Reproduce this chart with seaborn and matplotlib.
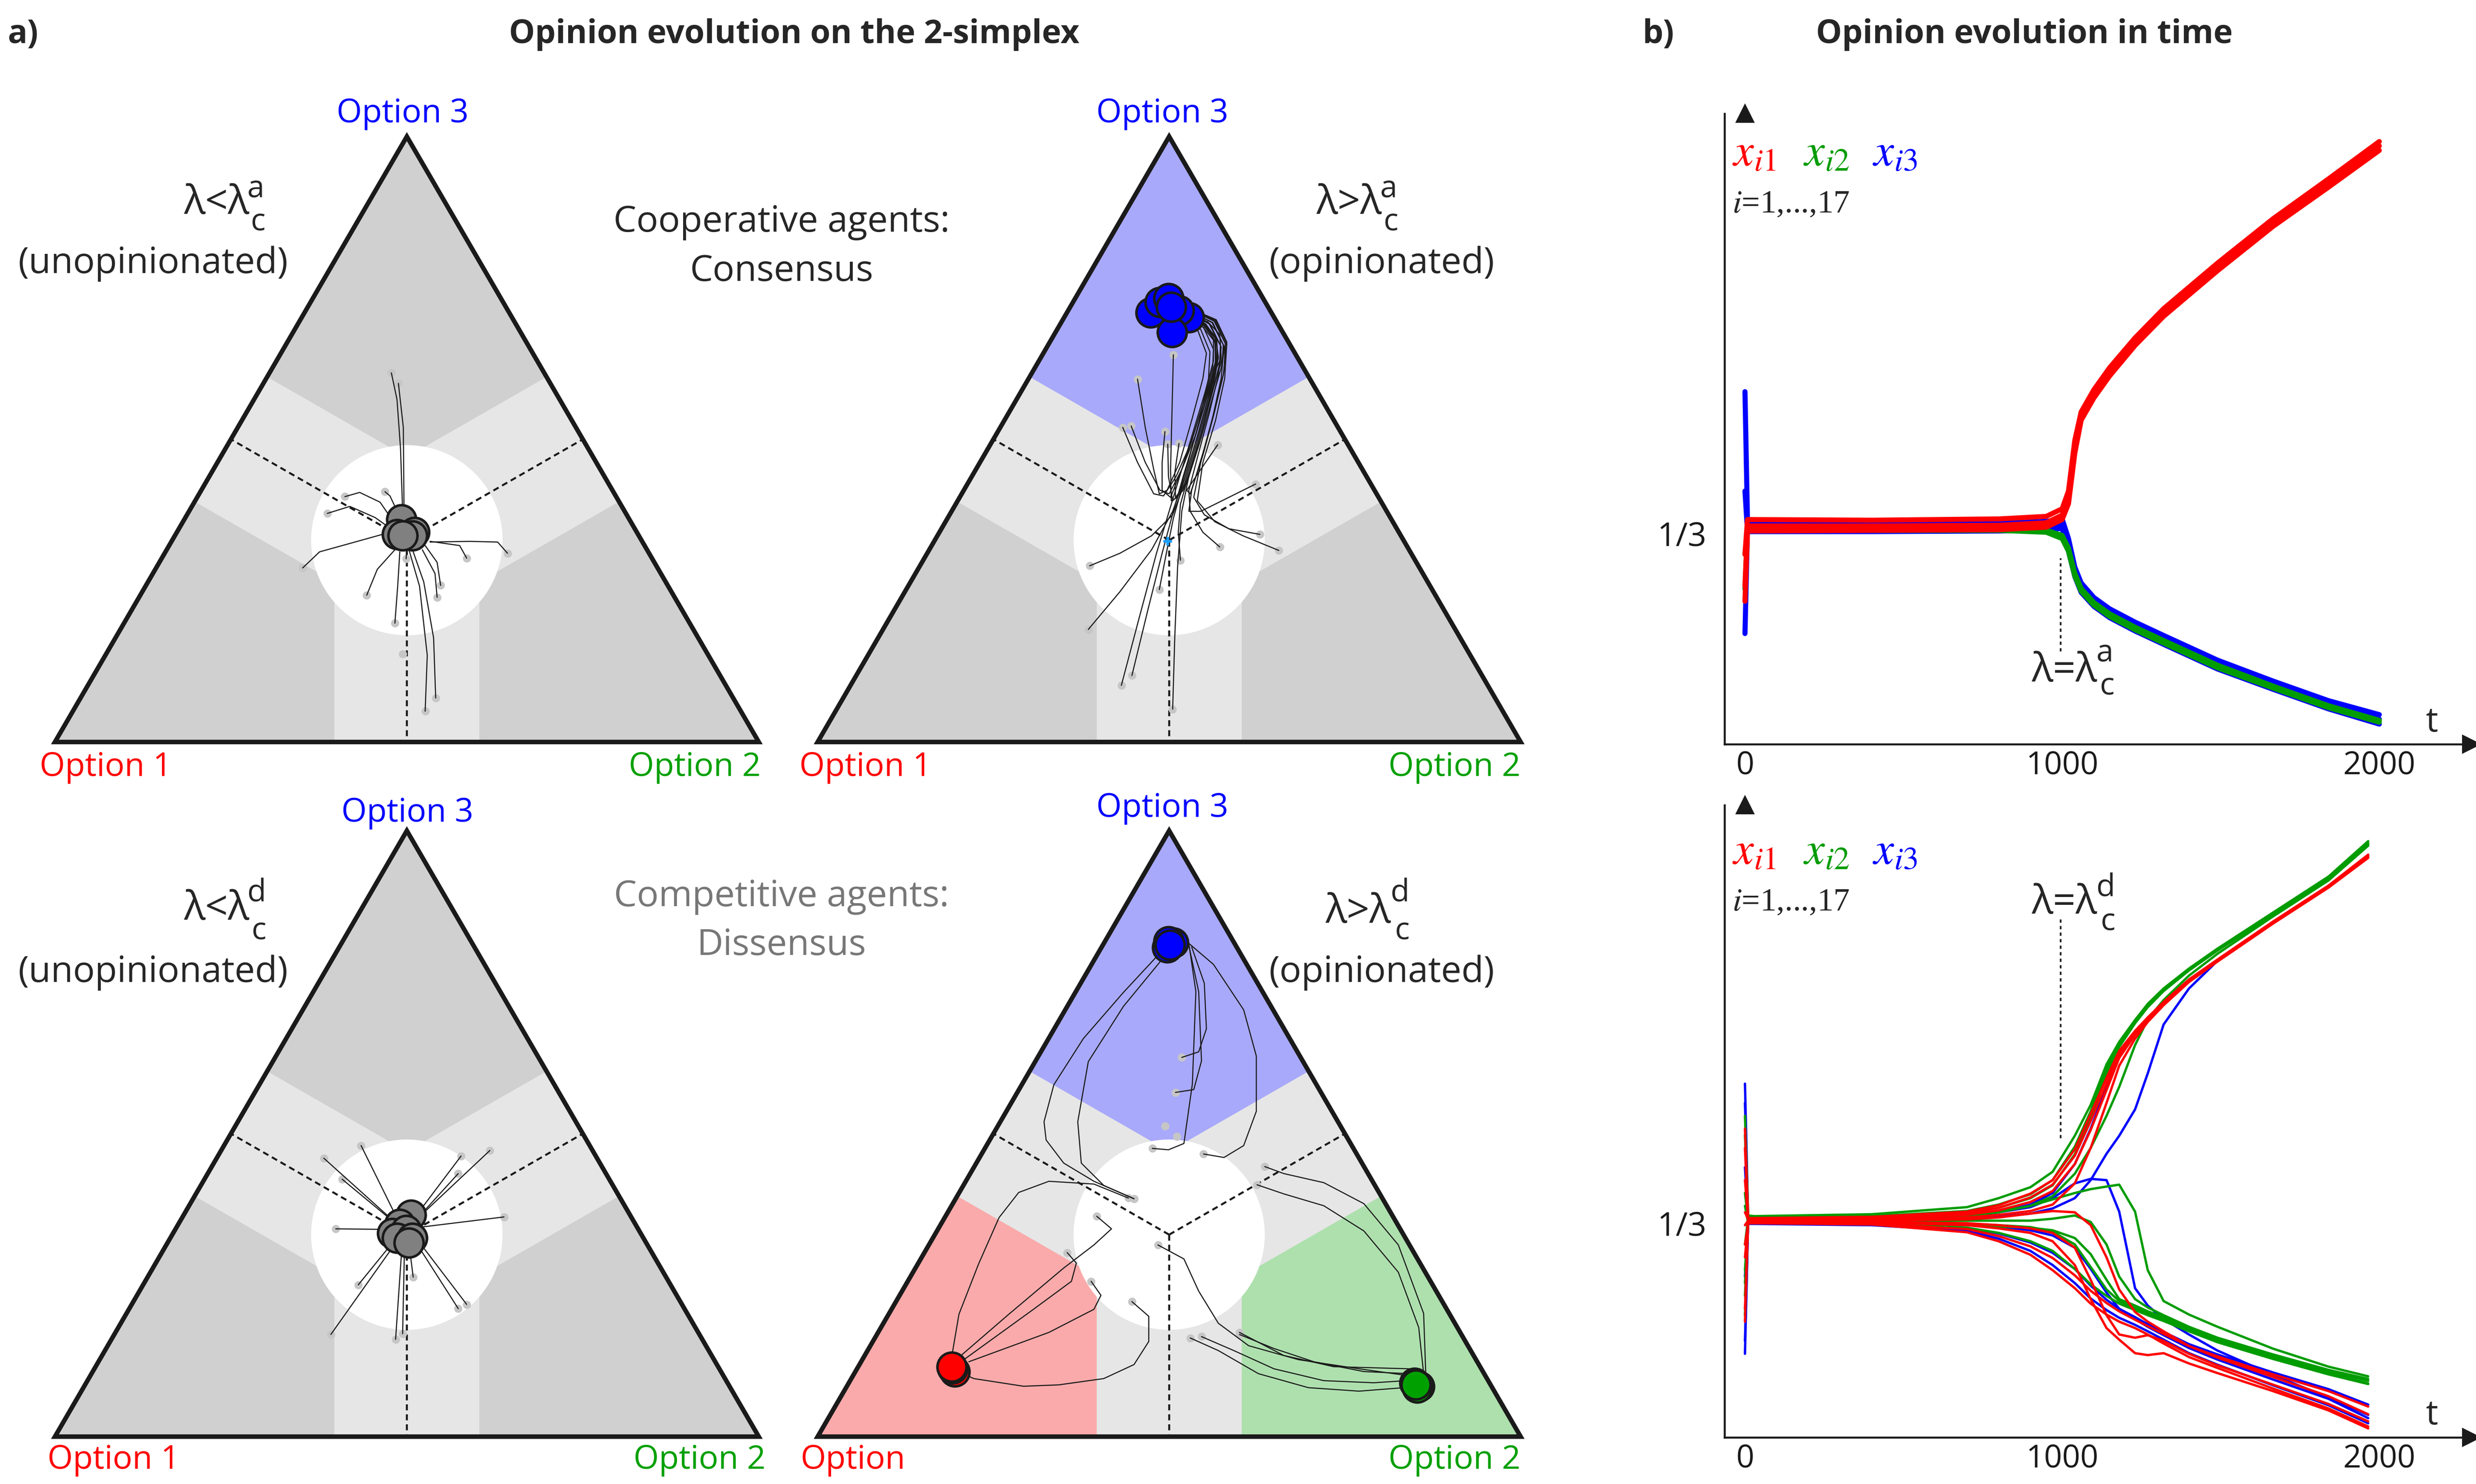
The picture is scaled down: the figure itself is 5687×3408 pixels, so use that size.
import matplotlib.pyplot as plt
import numpy as np
import pandas as pd
import seaborn as sns
from matplotlib.patches import Circle, Polygon

sns.set_theme(style="white")
plt.rcParams["font.family"] = ["Open Sans", "DejaVu Sans"]
plt.rcParams["mathtext.fontset"] = "stix"

RED, GREEN, BLUE = "#ff0000", "#00a000", "#0000ff"
LINE_GREEN = "#009c00"
GREY, BAND = "#d0d0d0", "#e6e6e6"
REGION = {"grey": GREY, "blue": "#a9a9fb", "red": "#faaaaa", "green": "#aee0ae"}

# layout grid of the reference (px), used only to place panels and labels
W, H = 1568, 940
H3 = np.sqrt(3) / 2

# -------------------------------------------------------------------
# DATA: simplex trajectories, (u, v) with base 0..1 and apex at (0.5, 0.866)
# -------------------------------------------------------------------
tl_paths = [
    [(0.478, 0.528), (0.486, 0.49), (0.491, 0.42), (0.494, 0.33)],
    [(0.488, 0.513), (0.495, 0.45), (0.496, 0.33)],
    [(0.412, 0.351), (0.433, 0.357), (0.462, 0.343), (0.479, 0.318), (0.490, 0.305)],
    [(0.469, 0.358), (0.476, 0.352), (0.483, 0.337), (0.490, 0.318)],
    [(0.387, 0.327), (0.419, 0.337), (0.455, 0.321), (0.476, 0.306)],
    [(0.352, 0.249), (0.376, 0.272), (0.419, 0.284), (0.476, 0.300)],
    [(0.443, 0.210), (0.458, 0.247), (0.483, 0.275)],
    [(0.483, 0.170), (0.487, 0.223), (0.490, 0.272)],
    [(0.526, 0.044), (0.529, 0.124), (0.518, 0.223), (0.503, 0.275)],
    [(0.541, 0.063), (0.538, 0.149), (0.524, 0.229), (0.508, 0.275)],
    [(0.543, 0.207), (0.540, 0.241), (0.522, 0.275)],
    [(0.548, 0.224), (0.543, 0.257), (0.526, 0.281)],
    [(0.585, 0.263), (0.575, 0.281), (0.533, 0.287)],
    [(0.643, 0.270), (0.629, 0.286), (0.589, 0.287), (0.533, 0.286)],
    [(0.499, 0.262), (0.500, 0.285)],
]
tl_starts = [p[0] for p in tl_paths] + [(0.494, 0.126)]
tl_finals = [(0.492, 0.318), (0.511, 0.300), (0.486, 0.297), (0.508, 0.295), (0.494, 0.295)]

tr_paths = [
    [(0.506, 0.554), (0.504, 0.47), (0.502, 0.39), (0.503, 0.345), (0.512, 0.35), (0.527, 0.40),
     (0.543, 0.46), (0.556, 0.52), (0.558, 0.558), (0.545, 0.590), (0.522, 0.608)],
    [(0.455, 0.519), (0.466, 0.45), (0.478, 0.39), (0.486, 0.355), (0.497, 0.36), (0.515, 0.40),
     (0.532, 0.46), (0.548, 0.52), (0.553, 0.556), (0.541, 0.588), (0.518, 0.606)],
    [(0.434, 0.450), (0.455, 0.40), (0.478, 0.355), (0.492, 0.352), (0.510, 0.38), (0.532, 0.43),
     (0.550, 0.49), (0.562, 0.535), (0.563, 0.562), (0.549, 0.593), (0.525, 0.610)],
    [(0.446, 0.452), (0.466, 0.40), (0.487, 0.36), (0.500, 0.355), (0.518, 0.39), (0.538, 0.44),
     (0.556, 0.50), (0.567, 0.54), (0.568, 0.565), (0.553, 0.596), (0.528, 0.612)],
    [(0.494, 0.444), (0.490, 0.40), (0.490, 0.36), (0.502, 0.35), (0.522, 0.40), (0.541, 0.46),
     (0.560, 0.52), (0.572, 0.545), (0.573, 0.567), (0.557, 0.598), (0.530, 0.613)],
    [(0.498, 0.426), (0.499, 0.38), (0.505, 0.345), (0.520, 0.36), (0.537, 0.41), (0.553, 0.47),
     (0.567, 0.52), (0.576, 0.55), (0.577, 0.568), (0.561, 0.600), (0.532, 0.615)],
    [(0.514, 0.427), (0.508, 0.385), (0.509, 0.35), (0.525, 0.37), (0.544, 0.43), (0.561, 0.49),
     (0.574, 0.535), (0.580, 0.57), (0.565, 0.602), (0.535, 0.616)],
    [(0.569, 0.425), (0.545, 0.39), (0.525, 0.36), (0.530, 0.355), (0.548, 0.41), (0.564, 0.47),
     (0.577, 0.525), (0.582, 0.572), (0.567, 0.604), (0.537, 0.617)],
    [(0.623, 0.369), (0.585, 0.35), (0.545, 0.33), (0.528, 0.33), (0.532, 0.36), (0.550, 0.42),
     (0.566, 0.48), (0.578, 0.53), (0.580, 0.57), (0.564, 0.602), (0.535, 0.616)],
    [(0.629, 0.297), (0.585, 0.305), (0.550, 0.325), (0.535, 0.35), (0.545, 0.40), (0.561, 0.46),
     (0.574, 0.52), (0.578, 0.566), (0.562, 0.600), (0.532, 0.615)],
    [(0.656, 0.274), (0.605, 0.295), (0.565, 0.315), (0.540, 0.345), (0.548, 0.40), (0.566, 0.46),
     (0.579, 0.52), (0.582, 0.57), (0.566, 0.603), (0.536, 0.617)],
    [(0.572, 0.279), (0.548, 0.30), (0.530, 0.33), (0.528, 0.36), (0.541, 0.41), (0.557, 0.47),
     (0.570, 0.525), (0.574, 0.565), (0.558, 0.598), (0.530, 0.613)],
    [(0.516, 0.260), (0.513, 0.30), (0.516, 0.34), (0.530, 0.39), (0.548, 0.45), (0.563, 0.51),
     (0.570, 0.55), (0.566, 0.58), (0.548, 0.600), (0.525, 0.610)],
    [(0.486, 0.218), (0.496, 0.27), (0.506, 0.32), (0.520, 0.37), (0.538, 0.43), (0.555, 0.49),
     (0.566, 0.54), (0.565, 0.575), (0.548, 0.597), (0.522, 0.609)],
    [(0.387, 0.252), (0.430, 0.27), (0.475, 0.295), (0.505, 0.325), (0.522, 0.37), (0.540, 0.43),
     (0.557, 0.49), (0.568, 0.54), (0.568, 0.575), (0.552, 0.598), (0.526, 0.611)],
    [(0.385, 0.161), (0.430, 0.215), (0.475, 0.275), (0.505, 0.33), (0.523, 0.38), (0.541, 0.44),
     (0.558, 0.50), (0.569, 0.545), (0.567, 0.578), (0.550, 0.598), (0.524, 0.610)],
    [(0.432, 0.081), (0.458, 0.18), (0.482, 0.27), (0.500, 0.33), (0.515, 0.38), (0.533, 0.44),
     (0.551, 0.50), (0.563, 0.545), (0.563, 0.575), (0.546, 0.596), (0.520, 0.608)],
    [(0.447, 0.095), (0.470, 0.19), (0.490, 0.27), (0.506, 0.33), (0.520, 0.38), (0.538, 0.44),
     (0.555, 0.50), (0.566, 0.545), (0.566, 0.577), (0.549, 0.597), (0.523, 0.609)],
    [(0.505, 0.047), (0.508, 0.15), (0.512, 0.25), (0.518, 0.33), (0.530, 0.39), (0.548, 0.45),
     (0.564, 0.51), (0.574, 0.55), (0.572, 0.583), (0.555, 0.601), (0.528, 0.612)],
]
tr_starts = [p[0] for p in tr_paths]
tr_finals = [(0.528, 0.607), (0.514, 0.617), (0.504, 0.586), (0.474, 0.614),
             (0.487, 0.629), (0.499, 0.635), (0.503, 0.622)]

bl_starts = [(0.435, 0.416), (0.382, 0.398), (0.408, 0.368), (0.399, 0.297), (0.431, 0.217),
             (0.392, 0.146), (0.484, 0.139), (0.494, 0.147), (0.509, 0.228), (0.573, 0.183),
             (0.585, 0.189), (0.638, 0.314), (0.618, 0.409), (0.577, 0.401), (0.573, 0.376)]
bl_ends = [(0.492, 0.300), (0.488, 0.302), (0.492, 0.298), (0.488, 0.296), (0.490, 0.290),
           (0.492, 0.288), (0.494, 0.286), (0.497, 0.288), (0.501, 0.292), (0.505, 0.290),
           (0.507, 0.292), (0.508, 0.298), (0.508, 0.305), (0.505, 0.305), (0.506, 0.302)]
bl_finals = [(0.506, 0.317), (0.490, 0.304), (0.479, 0.291), (0.499, 0.295),
             (0.486, 0.284), (0.508, 0.284), (0.503, 0.277)]

br_paths_blue = [
    [(0.518, 0.542), (0.542, 0.550), (0.553, 0.583), (0.550, 0.648), (0.532, 0.700)],
    [(0.509, 0.492), (0.535, 0.496), (0.546, 0.537), (0.542, 0.636), (0.528, 0.702)],
    [(0.476, 0.412), (0.499, 0.410), (0.521, 0.419), (0.533, 0.504), (0.538, 0.636), (0.528, 0.705)],
    [(0.549, 0.404), (0.578, 0.399), (0.606, 0.416), (0.624, 0.465), (0.624, 0.544), (0.606, 0.610),
     (0.563, 0.675), (0.528, 0.705)],
    [(0.450, 0.340), (0.393, 0.365), (0.350, 0.391), (0.325, 0.424), (0.322, 0.450), (0.336, 0.503),
     (0.378, 0.569), (0.435, 0.635), (0.484, 0.688)],
    [(0.450, 0.340), (0.407, 0.359), (0.375, 0.391), (0.370, 0.450), (0.385, 0.536), (0.435, 0.615),
     (0.489, 0.681)],
]
br_paths_red = [
    [(0.397, 0.315), (0.418, 0.297), (0.393, 0.274), (0.350, 0.241), (0.272, 0.175), (0.204, 0.116)],
    [(0.355, 0.263), (0.368, 0.248), (0.361, 0.222), (0.307, 0.182), (0.208, 0.110)],
    [(0.389, 0.222), (0.403, 0.202), (0.393, 0.182), (0.329, 0.149), (0.215, 0.107)],
    [(0.447, 0.193), (0.471, 0.172), (0.471, 0.136), (0.450, 0.103), (0.407, 0.083), (0.343, 0.074),
     (0.293, 0.072), (0.222, 0.083), (0.201, 0.093)],
    [(0.442, 0.341), (0.393, 0.361), (0.329, 0.365), (0.286, 0.349), (0.258, 0.313), (0.229, 0.247),
     (0.201, 0.175), (0.191, 0.116)],
]
br_paths_green = [
    [(0.636, 0.386), (0.663, 0.376), (0.720, 0.363), (0.777, 0.333), (0.826, 0.274), (0.862, 0.176),
     (0.865, 0.090)],
    [(0.625, 0.360), (0.663, 0.347), (0.720, 0.330), (0.777, 0.294), (0.826, 0.235), (0.855, 0.156),
     (0.862, 0.090)],
    [(0.484, 0.274), (0.521, 0.254), (0.542, 0.208), (0.570, 0.162), (0.613, 0.130), (0.684, 0.110),
     (0.770, 0.097), (0.841, 0.087)],
    [(0.530, 0.141), (0.570, 0.123), (0.627, 0.090), (0.698, 0.070), (0.770, 0.065), (0.834, 0.070)],
    [(0.546, 0.143), (0.592, 0.123), (0.649, 0.097), (0.720, 0.080), (0.791, 0.077), (0.837, 0.080)],
    [(0.600, 0.146), (0.649, 0.126), (0.706, 0.107), (0.777, 0.093), (0.841, 0.090)],
    [(0.600, 0.149), (0.663, 0.116), (0.734, 0.100), (0.841, 0.097)],
]
br_extra_starts = [(0.494, 0.444), (0.511, 0.429)]
br_finals_blue = [(0.497, 0.699), (0.506, 0.706), (0.499, 0.708), (0.501, 0.703)]
br_finals_red = [(0.195, 0.093), (0.192, 0.097), (0.191, 0.100)]
br_finals_green = [(0.856, 0.072), (0.853, 0.070), (0.849, 0.077), (0.851, 0.074)]

# -------------------------------------------------------------------
# DATA: opinion time series x_ik(t)
# -------------------------------------------------------------------
t_top = [0, 8, 20, 400, 800, 950, 1000, 1020, 1040, 1060, 1100, 1150, 1230, 1320, 1490, 1665, 1840, 2000]
top_x1 = [
    [0.300, 0.355, 0.355, 0.354, 0.356, 0.360, 0.372, 0.400, 0.480, 0.525, 0.560, 0.595, 0.642, 0.688, 0.760, 0.830, 0.893, 0.952],
    [0.250, 0.345, 0.345, 0.345, 0.346, 0.350, 0.362, 0.390, 0.470, 0.518, 0.553, 0.588, 0.635, 0.681, 0.753, 0.823, 0.886, 0.945],
    [0.226, 0.337, 0.337, 0.338, 0.339, 0.343, 0.355, 0.380, 0.460, 0.512, 0.547, 0.582, 0.630, 0.676, 0.748, 0.818, 0.880, 0.938],
]
top_x2 = [
    [0.245, 0.341, 0.341, 0.341, 0.341, 0.338, 0.330, 0.310, 0.270, 0.246, 0.224, 0.206, 0.185, 0.164, 0.125, 0.092, 0.061, 0.038],
    [0.300, 0.338, 0.338, 0.338, 0.338, 0.335, 0.325, 0.305, 0.266, 0.242, 0.220, 0.202, 0.181, 0.160, 0.121, 0.089, 0.058, 0.035],
]
top_x3 = [
    [0.557, 0.350, 0.349, 0.348, 0.349, 0.352, 0.356, 0.325, 0.280, 0.255, 0.232, 0.214, 0.193, 0.172, 0.133, 0.100, 0.069, 0.047],
    [0.175, 0.343, 0.343, 0.343, 0.344, 0.346, 0.348, 0.315, 0.272, 0.247, 0.225, 0.207, 0.186, 0.165, 0.126, 0.094, 0.063, 0.040],
    [0.400, 0.336, 0.336, 0.336, 0.337, 0.339, 0.341, 0.305, 0.265, 0.240, 0.218, 0.200, 0.179, 0.158, 0.119, 0.087, 0.056, 0.032],
]

t_bot = [0, 10, 30, 400, 700, 800, 900, 970, 1040, 1090, 1140, 1180, 1230, 1270, 1320, 1400, 1490, 1665, 1840, 1965]
bot_x1 = [
    [0.48, 0.341, 0.341, 0.343, 0.351, 0.361, 0.379, 0.400, 0.448, 0.503, 0.559, 0.601, 0.632, 0.653, 0.677, 0.712, 0.743, 0.802, 0.858, 0.906],
    [0.35, 0.339, 0.339, 0.341, 0.348, 0.357, 0.373, 0.393, 0.438, 0.492, 0.550, 0.596, 0.629, 0.651, 0.675, 0.710, 0.741, 0.800, 0.856, 0.903],
    [0.20, 0.338, 0.338, 0.340, 0.346, 0.353, 0.366, 0.383, 0.425, 0.478, 0.540, 0.590, 0.626, 0.649, 0.674, 0.709, 0.740, 0.799, 0.855, 0.901],
    [0.40, 0.337, 0.337, 0.338, 0.342, 0.346, 0.352, 0.362, 0.395, 0.450, 0.520, 0.578, 0.620, 0.646, 0.672, 0.708, 0.740, 0.799, 0.855, 0.902],
    [0.30, 0.333, 0.333, 0.331, 0.319, 0.305, 0.284, 0.260, 0.232, 0.208, 0.191, 0.180, 0.170, 0.160, 0.146, 0.125, 0.108, 0.076, 0.045, 0.017],
    [0.45, 0.334, 0.334, 0.332, 0.324, 0.313, 0.297, 0.279, 0.252, 0.228, 0.209, 0.196, 0.183, 0.173, 0.161, 0.142, 0.126, 0.098, 0.072, 0.048],
    [0.28, 0.335, 0.335, 0.334, 0.330, 0.325, 0.318, 0.305, 0.268, 0.215, 0.170, 0.152, 0.131, 0.128, 0.131, 0.115, 0.100, 0.072, 0.042, 0.014],
    [0.18, 0.336, 0.336, 0.335, 0.333, 0.330, 0.325, 0.318, 0.295, 0.245, 0.190, 0.160, 0.155, 0.159, 0.150, 0.130, 0.112, 0.082, 0.052, 0.025],
    [0.33, 0.337, 0.337, 0.337, 0.339, 0.342, 0.348, 0.352, 0.350, 0.330, 0.280, 0.230, 0.195, 0.180, 0.165, 0.142, 0.124, 0.094, 0.064, 0.036],
]
bot_x2 = [
    [0.50, 0.345, 0.344, 0.347, 0.358, 0.372, 0.389, 0.413, 0.469, 0.517, 0.580, 0.615, 0.649, 0.674, 0.698, 0.729, 0.760, 0.816, 0.872, 0.927],
    [0.30, 0.342, 0.342, 0.344, 0.352, 0.362, 0.378, 0.400, 0.452, 0.507, 0.573, 0.611, 0.646, 0.671, 0.695, 0.727, 0.758, 0.814, 0.870, 0.924],
    [0.22, 0.340, 0.340, 0.342, 0.349, 0.357, 0.372, 0.392, 0.440, 0.495, 0.565, 0.607, 0.644, 0.669, 0.694, 0.726, 0.757, 0.813, 0.869, 0.922],
    [0.26, 0.339, 0.339, 0.340, 0.345, 0.350, 0.360, 0.375, 0.410, 0.450, 0.500, 0.545, 0.610, 0.650, 0.680, 0.718, 0.752, 0.810, 0.866, 0.920],
    [0.19, 0.338, 0.338, 0.339, 0.344, 0.351, 0.360, 0.370, 0.380, 0.386, 0.390, 0.393, 0.351, 0.260, 0.212, 0.191, 0.172, 0.138, 0.110, 0.095],
    [0.47, 0.334, 0.334, 0.333, 0.330, 0.328, 0.326, 0.322, 0.310, 0.285, 0.245, 0.215, 0.205, 0.196, 0.187, 0.170, 0.153, 0.127, 0.103, 0.088],
    [0.24, 0.335, 0.335, 0.334, 0.332, 0.330, 0.327, 0.320, 0.300, 0.265, 0.230, 0.212, 0.201, 0.193, 0.184, 0.167, 0.150, 0.124, 0.100, 0.084],
    [0.36, 0.333, 0.333, 0.332, 0.326, 0.318, 0.305, 0.290, 0.262, 0.238, 0.220, 0.208, 0.198, 0.190, 0.181, 0.165, 0.148, 0.122, 0.098, 0.083],
    [0.38, 0.337, 0.337, 0.337, 0.337, 0.337, 0.337, 0.340, 0.345, 0.335, 0.300, 0.250, 0.215, 0.202, 0.190, 0.172, 0.155, 0.129, 0.105, 0.091],
]
bot_x3 = [
    [0.55, 0.338, 0.338, 0.339, 0.344, 0.350, 0.362, 0.380, 0.425, 0.480, 0.545, 0.592, 0.628, 0.651, 0.675, 0.710, 0.742, 0.800, 0.856, 0.904],
    [0.15, 0.336, 0.336, 0.337, 0.340, 0.343, 0.348, 0.356, 0.372, 0.400, 0.441, 0.469, 0.510, 0.566, 0.642, 0.698, 0.741, 0.800, 0.856, 0.904],
    [0.13, 0.337, 0.337, 0.338, 0.343, 0.350, 0.358, 0.372, 0.395, 0.402, 0.400, 0.351, 0.232, 0.205, 0.184, 0.160, 0.135, 0.097, 0.062, 0.035],
    [0.52, 0.332, 0.332, 0.330, 0.321, 0.309, 0.290, 0.268, 0.240, 0.216, 0.198, 0.186, 0.175, 0.165, 0.152, 0.131, 0.113, 0.081, 0.050, 0.022],
    [0.25, 0.333, 0.333, 0.332, 0.326, 0.317, 0.303, 0.287, 0.262, 0.236, 0.214, 0.200, 0.187, 0.176, 0.164, 0.145, 0.129, 0.101, 0.075, 0.051],
    [0.42, 0.336, 0.336, 0.335, 0.332, 0.328, 0.322, 0.314, 0.295, 0.262, 0.225, 0.200, 0.184, 0.172, 0.159, 0.139, 0.121, 0.090, 0.060, 0.030],
]

# -------------------------------------------------------------------
fig = plt.figure(figsize=(5687 / 300, 3408 / 300), dpi=300)


def add_axes_px(left, top, right, bottom):
    return fig.add_axes([left / W, 1 - bottom / H, (right - left) / W, (bottom - top) / H])


def ftext(x, y, s, **kw):
    kw.setdefault("ha", "center")
    kw.setdefault("va", "center")
    kw.setdefault("fontsize", 18)
    fig.text(x / W, 1 - y / H, s, **kw)


A, B, C = np.array([0.0, 0.0]), np.array([1.0, 0.0]), np.array([0.5, H3])
G = (A + B + C) / 3
M_AB, M_BC, M_CA = (A + B) / 2, (B + C) / 2, (C + A) / 2


def rotate(pts, ang):
    c, s = np.cos(ang), np.sin(ang)
    d = np.asarray(pts) - G
    return G + d @ np.array([[c, s], [-s, c]])


def draw_simplex(ax, colors, paths, starts, finals):
    ax.set_xlim(0, 1)
    ax.set_ylim(0, H3)
    ax.axis("off")
    clip = Polygon([A, B, C], closed=True, transform=ax.transData)
    regions = [[G, M_CA, A, M_AB], [G, M_AB, B, M_BC], [G, M_BC, C, M_CA]]
    for reg, col in zip(regions, colors):
        p = ax.add_patch(Polygon(reg, closed=True, fc=REGION[col], ec="none", zorder=1))
        p.set_clip_path(clip)
    hw = 0.103
    band = np.array([[0.5 - hw, G[1]], [0.5 + hw, G[1]], [0.5 + hw, -0.2], [0.5 - hw, -0.2]])
    for ang in (0, 2 * np.pi / 3, -2 * np.pi / 3):
        p = ax.add_patch(Polygon(rotate(band, ang), closed=True, fc=BAND, ec="none", zorder=2))
        p.set_clip_path(clip)
    ax.add_patch(Circle(G, 0.136, fc="white", ec="none", zorder=3))
    for m in (M_AB, M_BC, M_CA):
        ax.plot([G[0], m[0]], [G[1], m[1]], color="k", lw=1.1, ls=(0, (3, 2)), zorder=4)
    su, sv = zip(*starts)
    ax.plot(su, sv, "o", color="#c6c6c6", ms=4.5, mec="none", zorder=5)
    for path in paths:
        u, v = zip(*path)
        ax.plot(u, v, color="k", lw=0.6, zorder=6)
    for pts, col in finals:
        fu, fv = zip(*pts)
        ax.plot(fu, fv, "o", ms=16, mfc=col, mec="k", mew=1.4, zorder=7, clip_on=False)
    ax.add_patch(Polygon([A, B, C], closed=True, fill=False, ec="k", lw=2.5,
                         joinstyle="miter", zorder=8, clip_on=False))


ax_tl = add_axes_px(34.8, 86.5, 480.5, 470)
ax_tr = add_axes_px(517.8, 86.5, 963, 470)
ax_bl = add_axes_px(34.8, 526.2, 480.5, 910)
ax_br = add_axes_px(517.8, 526.2, 963, 910)

draw_simplex(ax_tl, ["grey", "grey", "grey"], tl_paths, tl_starts, [(tl_finals, "#808080")])
draw_simplex(ax_tr, ["grey", "grey", "blue"], tr_paths, tr_starts, [(tr_finals, BLUE)])
ax_tr.plot([0.498], [0.287], "+", color="#1a9fff", ms=5, mew=1.5, zorder=6)
draw_simplex(ax_bl, ["grey", "grey", "grey"], [[s, e] for s, e in zip(bl_starts, bl_ends)],
             bl_starts, [(bl_finals, "#808080")])
br_paths = br_paths_blue + br_paths_red + br_paths_green
draw_simplex(ax_br, ["red", "green", "blue"], br_paths,
             [p[0] for p in br_paths] + br_extra_starts,
             [(br_finals_blue, BLUE), (br_finals_red, RED), (br_finals_green, GREEN)])

# labels of panel a
ftext(255, 72, "Option 3", color=BLUE)
ftext(736, 72, "Option 3", color=BLUE)
ftext(258, 515, "Option 3", color=BLUE)
ftext(736, 512, "Option 3", color=BLUE)
ftext(67, 486, "Option 1", color=RED)
ftext(548, 486, "Option 1", color=RED)
ftext(72, 925, "Option 1", color=RED)
ftext(540, 925, "Option", color=RED)
ftext(440, 486, "Option 2", color=GREEN)
ftext(921, 486, "Option 2", color=GREEN)
ftext(443, 925, "Option 2", color=GREEN)
ftext(921, 925, "Option 2", color=GREEN)

ftext(97, 167, "(unopinionated)", fontsize=20)
ftext(875, 167, "(opinionated)", fontsize=20)
ftext(97, 616, "(unopinionated)", fontsize=20)
ftext(875, 616, "(opinionated)", fontsize=20)
ftext(495, 141, "Cooperative agents:", fontsize=20)
ftext(495, 172, "Consensus", fontsize=20)
ftext(495, 568, "Competitive agents:", color="#777777", fontsize=20)
ftext(495, 599, "Dissensus", color="#777777", fontsize=20)


def lam_label(x_right, y, s, sup, sub_y, sup_y, sx):
    ftext(x_right, y, s, ha="right", fontsize=22)
    ftext(sx, sup_y, sup, fontsize=17)
    ftext(sx + 1.5, sub_y, "c", fontsize=17)


lam_label(158, 129, "λ<λ", "a", 141, 120, 162)
lam_label(875, 129, "λ>λ", "a", 141, 120, 879.5)
lam_label(158, 576, "λ<λ", "d", 590, 566, 162.5)
lam_label(881, 578, "λ>λ", "d", 590, 566, 886.5)
lam_label(1328, 425, "λ=λ", "a", 435, 414, 1333)
lam_label(1328, 572, "λ=λ", "d", 584, 562.5, 1333.5)

ftext(5, 22, "a)", ha="left", fontweight="bold")
ftext(503, 22, "Opinion evolution on the 2-simplex", fontsize=18, fontweight="bold")
ftext(1040, 22, "b)", ha="left", fontweight="bold")
ftext(1282, 22, "Opinion evolution in time", fontsize=18, fontweight="bold")

# -------------------------------------------------------------------
# Panel b: time series with seaborn
# -------------------------------------------------------------------
palette = {"x1": RED, "x2": LINE_GREEN, "x3": BLUE}


def to_frame(t, groups):
    rows = []
    for opt, curves in groups.items():
        for k, vals in enumerate(curves):
            for tt, xx in zip(t, vals):
                rows.append({"t": tt, "x": xx, "opinion": opt, "agent": f"{opt}_{k}"})
    return pd.DataFrame(rows)


df_top = to_frame(t_top, {"x1": top_x1, "x2": top_x2, "x3": top_x3})
df_bot = to_frame(t_bot, {"x1": bot_x1, "x2": bot_x2, "x3": bot_x3})

ax_bt = add_axes_px(1092, 72, 1565, 471.5)
ax_bb = add_axes_px(1092, 510, 1565, 910.5)

sns.lineplot(data=df_top, x="t", y="x", hue="opinion", units="agent", estimator=None,
             hue_order=["x3", "x2", "x1"], palette=palette, sort=False, lw=2.8,
             legend=False, ax=ax_bt)
sns.lineplot(data=df_bot, x="t", y="x", hue="opinion", units="agent", estimator=None,
             hue_order=["x3", "x2", "x1"], palette=palette, sort=False, lw=1.3,
             legend=False, ax=ax_bb)

for ax, ytop, lam_top, lam_bot, leg_y, idx_y in (
    (ax_bt, 0.996, 0.294, 0.147, 0.933, 0.852),
    (ax_bb, 0.983, 0.809, 0.465, 0.910, 0.831),
):
    ax.set_xlim(-65, 2290)
    ax.set_ylim(0, ytop)
    sns.despine(ax=ax)
    for sp in ("left", "bottom"):
        ax.spines[sp].set_color("k")
        ax.spines[sp].set_linewidth(1.1)
    ax.plot(1, 0, ">k", ms=9, transform=ax.get_yaxis_transform(), clip_on=False)
    ax.plot(0, 1, "^k", ms=9, transform=ax.get_xaxis_transform(), clip_on=False)
    ax.set_xticks([0, 1000, 2000], ["0", "1000", "2000"])
    ax.set_yticks([1 / 3], ["1/3"])
    ax.tick_params(axis="x", length=0, pad=3, labelsize=17.5, colors="k")
    ax.tick_params(axis="y", length=0, pad=10, labelsize=18, colors="k")
    ax.set_xlabel("")
    ax.set_ylabel("")
    ax.grid(False)
    ax.plot([995, 995], [lam_bot, lam_top], color="k", lw=0.9, ls=(0, (2, 2)))
    ax.text(2166, 0.034, "t", fontsize=19, ha="center", va="center")
    for tx, lbl, col in ((29, r"$x_{i1}$", RED), (256, r"$x_{i2}$", LINE_GREEN), (473, r"$x_{i3}$", BLUE)):
        ax.text(tx, leg_y, lbl, color=col, fontsize=25, ha="center", va="center")
    ax.text(-40, idx_y, r"$i$=1,...,17", fontsize=18, ha="left", va="center",
            family=["Liberation Serif", "DejaVu Serif"])

fig.savefig("out.png", dpi=300)
